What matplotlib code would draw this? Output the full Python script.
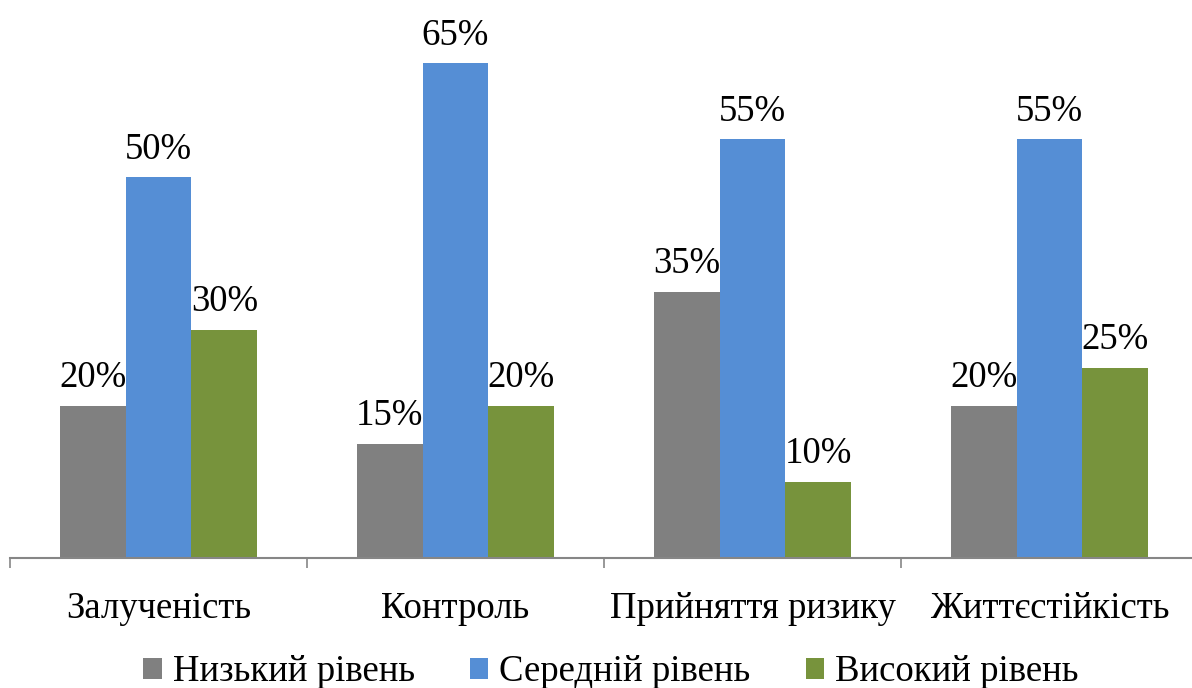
import matplotlib
matplotlib.use("Agg")
import matplotlib.pyplot as plt
from matplotlib.ticker import FixedLocator, NullFormatter
import numpy as np

categories = ["Залученість", "Контроль", "Прийняття ризику", "Життєстійкість"]
series_names = ["Низький рівень", "Середній рівень", "Високий рівень"]
low = [20, 15, 35, 20]
medium = [50, 65, 55, 55]
high = [30, 20, 10, 25]
colors = ["#808080", "#558ED5", "#77933C"]

FS = 26.5
plt.rcParams["font.family"] = ["Liberation Serif", "DejaVu Serif"]
plt.rcParams["font.size"] = FS

W, H = 1192, 688
fig = plt.figure(figsize=(W / 100, H / 100), dpi=100)
ax = fig.add_axes([10 / W, 130 / H, 1188 / W, 533 / H])

x = np.arange(len(categories))
width = 0.222
for i, (vals, name, col) in enumerate(zip([low, medium, high], series_names, colors)):
    bars = ax.bar(x + (i - 1) * width, vals, width, color=col, label=name,
                  edgecolor="none")
    ax.bar_label(bars, labels=[f"{v}%" for v in vals], padding=7.5, fontsize=FS)

ax.set_xlim(-0.5, len(categories) - 0.5)
ax.set_ylim(0, 70)
ax.set_yticks([])

for side in ["left", "right", "top"]:
    ax.spines[side].set_visible(False)
ax.spines["bottom"].set_color("#868686")
ax.spines["bottom"].set_linewidth(1.5)

# boundary ticks between categories, category names as minor tick labels
ax.xaxis.set_major_locator(FixedLocator(np.arange(-0.5, len(categories), 1.0)))
ax.xaxis.set_major_formatter(NullFormatter())
ax.tick_params(axis="x", which="major", direction="out", length=7.5,
               width=1.2, color="#868686")
ax.set_xticks(x, minor=True)
ax.set_xticklabels(categories, minor=True)
ax.tick_params(axis="x", which="minor", length=0, pad=24, labelsize=FS)

fig.legend(loc="center", bbox_to_anchor=(0.5 + 15 / W, 16 / H), ncol=3,
           frameon=False, handlelength=0.5, handleheight=0.5,
           handletextpad=0.3, columnspacing=1.5, fontsize=FS, borderaxespad=0)

fig.savefig("out.png", dpi=100)
